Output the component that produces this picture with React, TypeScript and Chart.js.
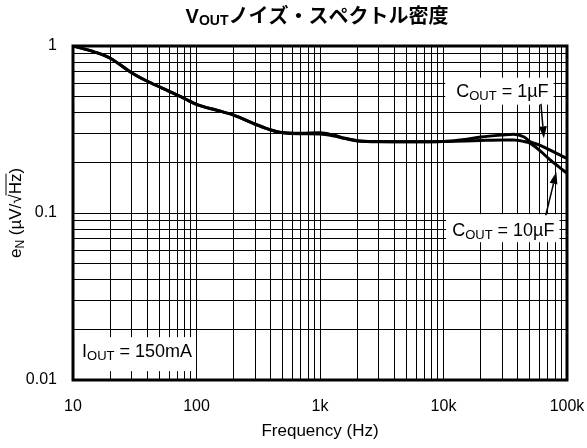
import React, { useEffect, useRef } from "react";
import { Chart, registerables } from "chart.js";

Chart.register(...registerables);

// ---- Data ----
const FREQ_HZ = [10, 15, 20, 30, 40, 60, 80, 100, 150, 200, 300, 400, 500, 700, 1000, 1300, 1600, 2000, 3000, 5000, 7000, 10000, 15000, 20000, 30000, 37000, 45000, 50000, 60000, 73000, 85000, 100000];
const NOISE_COUT_1UF = [1.0, 0.92, 0.845, 0.69, 0.615, 0.535, 0.485, 0.447, 0.41, 0.386, 0.34, 0.314, 0.302, 0.3, 0.302, 0.292, 0.28, 0.271, 0.268, 0.267, 0.267, 0.268, 0.276, 0.285, 0.293, 0.296, 0.285, 0.268, 0.255, 0.238, 0.225, 0.212];
const NOISE_COUT_10UF = [1.0, 0.92, 0.845, 0.69, 0.615, 0.535, 0.485, 0.447, 0.41, 0.386, 0.34, 0.314, 0.302, 0.298, 0.297, 0.289, 0.279, 0.27, 0.267, 0.267, 0.267, 0.268, 0.27, 0.272, 0.274, 0.274, 0.268, 0.262, 0.237, 0.208, 0.19, 0.173];

const X_TICK_VALUES = [10, 100, 1000, 10000, 100000];
const X_TICK_LABELS = ["10", "100", "1k", "10k", "100k"];
const Y_TICK_VALUES = [0.01, 0.1, 1];
const Y_TICK_LABELS = ["0.01", "0.1", "1"];

const FONT = "'Liberation Sans', Arial, Helvetica, sans-serif";
const CJK = "'Noto Sans CJK JP', 'Noto Sans CJK SC', sans-serif";

type Part = { t: string; sub?: boolean; family?: string; over?: boolean };

const TITLE_PARTS: Part[] = [
  { t: "V" },
  { t: "OUT", sub: true },
  { t: "ノイズ・スペクトル密度", family: CJK },
];
const Y_TITLE_PARTS: Part[] = [
  { t: "e" },
  { t: "N", sub: true },
  { t: " (µV/√" },
  { t: "Hz", over: true },
  { t: ")" },
];
const X_TITLE = "Frequency (Hz)";

// annotation labels (anchored in data space)
const LABELS = [
  { parts: [{ t: "C" }, { t: "OUT", sub: true }, { t: " = 1µF" }] as Part[], x: 30000, y: 0.54, padL: 11, padR: 5, top: 13, bottom: 14 },
  { parts: [{ t: "C" }, { t: "OUT", sub: true }, { t: " = 10µF" }] as Part[], x: 30500, y: 0.08, padL: 6, padR: 5, top: 15, bottom: 13 },
  { parts: [{ t: "I" }, { t: "OUT", sub: true }, { t: " = 150mA" }] as Part[], x: 33, y: 0.0151, padL: 8, padR: 4, top: 13, bottom: 21 },
];
const ARROWS = [
  { from: { x: 61500, y: 0.45 }, to: { x: 65000, y: 0.28 } },
  { from: { x: 67300, y: 0.097 }, to: { x: 82000, y: 0.176 } },
];

function logGrid(minExp: number, maxExp: number): number[] {
  const out: number[] = [];
  for (let e = minExp; e < maxExp; e++) {
    for (let m = 1; m <= 9; m++) out.push(m * Math.pow(10, e));
  }
  out.push(Math.pow(10, maxExp));
  return out;
}

function labelFor(v: number, vals: number[], labels: string[]): string {
  for (let i = 0; i < vals.length; i++) {
    if (Math.abs(v - vals[i]) / vals[i] < 1e-6) return labels[i];
  }
  return "";
}

function fontOf(p: Part, size: number, bold: boolean) {
  const s = p.sub ? Math.round(size * 0.7) : size;
  return `${bold ? "bold " : ""}${s}px ${p.family || FONT}`;
}

function measureParts(ctx: CanvasRenderingContext2D, parts: Part[], size: number, bold = false) {
  let w = 0;
  for (const p of parts) {
    ctx.font = fontOf(p, size, bold);
    w += ctx.measureText(p.t).width;
  }
  return w;
}

function drawParts(ctx: CanvasRenderingContext2D, parts: Part[], x: number, baseline: number, size: number, bold = false, subDrop = 0.18) {
  let cx = x;
  ctx.textAlign = "left";
  ctx.textBaseline = "alphabetic";
  for (const p of parts) {
    ctx.font = fontOf(p, size, bold);
    const dy = p.sub ? size * subDrop : 0;
    ctx.fillText(p.t, cx, baseline + dy);
    const w = ctx.measureText(p.t).width;
    if (p.over) {
      ctx.save();
      ctx.lineWidth = 1;
      ctx.beginPath();
      const oy = baseline - size * 0.86;
      ctx.moveTo(cx - 1, oy);
      ctx.lineTo(cx + w, oy);
      ctx.stroke();
      ctx.restore();
    }
    cx += w;
  }
}

const decorPlugin = {
  id: "decor",
  afterDatasetsDraw(chart: any) {
    const { ctx, chartArea: a } = chart;
    const xs = chart.scales.x;
    const ys = chart.scales.y;
    ctx.save();
    ctx.fillStyle = "#000";
    ctx.strokeStyle = "#000";
    const size = 18;
    for (const L of LABELS) {
      const cx = xs.getPixelForValue(L.x);
      const cy = ys.getPixelForValue(L.y);
      const w = measureParts(ctx, L.parts, size);
      const left = cx - w / 2;
      ctx.fillStyle = "#fff";
      ctx.fillRect(left - L.padL, cy - L.top, w + L.padL + L.padR, L.top + L.bottom);
      ctx.fillStyle = "#000";
      drawParts(ctx, L.parts, left, cy + size * 0.36, size);
    }
    for (const A of ARROWS) {
      const x1 = xs.getPixelForValue(A.from.x);
      const y1 = ys.getPixelForValue(A.from.y);
      const x2 = xs.getPixelForValue(A.to.x);
      const y2 = ys.getPixelForValue(A.to.y);
      const ang = Math.atan2(y2 - y1, x2 - x1);
      const hl = 12;
      const hw = 4;
      const bx = x2 - hl * Math.cos(ang);
      const by = y2 - hl * Math.sin(ang);
      ctx.lineWidth = 1.5;
      ctx.beginPath();
      ctx.moveTo(x1, y1);
      ctx.lineTo(bx, by);
      ctx.stroke();
      ctx.beginPath();
      ctx.moveTo(x2, y2);
      ctx.lineTo(bx + hw * Math.sin(ang), by - hw * Math.cos(ang));
      ctx.lineTo(bx - hw * Math.sin(ang), by + hw * Math.cos(ang));
      ctx.closePath();
      ctx.fill();
    }
    ctx.lineWidth = 3;
    ctx.strokeRect(a.left, a.top, a.right - a.left, a.bottom - a.top);
    ctx.restore();
  },
  afterDraw(chart: any) {
    const { ctx, chartArea: a } = chart;
    ctx.save();
    ctx.fillStyle = "#000";
    ctx.strokeStyle = "#000";
    const midX = (a.left + a.right) / 2;
    const ts = 20;
    const tw = measureParts(ctx, TITLE_PARTS, ts, true);
    drawParts(ctx, TITLE_PARTS, midX - tw / 2 - 3, 23, ts, true, 0.12);
    ctx.font = `17px ${FONT}`;
    ctx.textAlign = "center";
    ctx.textBaseline = "middle";
    ctx.fillText(X_TITLE, midX, 431);
    const ys = 17;
    const yw = measureParts(ctx, Y_TITLE_PARTS, ys);
    ctx.translate(14.5, (a.top + a.bottom) / 2);
    ctx.rotate(-Math.PI / 2);
    drawParts(ctx, Y_TITLE_PARTS, -yw / 2, ys * 0.36, ys);
    ctx.restore();
  },
};

export default function App() {
  const ref = useRef<HTMLCanvasElement | null>(null);
  useEffect(() => {
    if (!ref.current) return;
    const chart = new Chart(ref.current, {
      type: "line",
      data: {
        datasets: [
          {
            label: "COUT = 1µF",
            data: FREQ_HZ.map((f, i) => ({ x: f, y: NOISE_COUT_1UF[i] })),
            borderColor: "#000",
            borderWidth: 3,
            pointRadius: 0,
            fill: false,
            cubicInterpolationMode: "monotone",
          },
          {
            label: "COUT = 10µF",
            data: FREQ_HZ.map((f, i) => ({ x: f, y: NOISE_COUT_10UF[i] })),
            borderColor: "#000",
            borderWidth: 3,
            pointRadius: 0,
            fill: false,
            cubicInterpolationMode: "monotone",
          },
        ],
      },
      options: {
        animation: false,
        responsive: false,
        devicePixelRatio: 1,
        layout: { padding: { top: 46, right: 20, left: 0, bottom: 0 } },
        plugins: {
          legend: { display: false },
          title: { display: false },
          tooltip: { enabled: false },
        },
        scales: {
          x: {
            type: "logarithmic",
            min: 10,
            max: 100000,
            afterBuildTicks: (s: any) => {
              s.ticks = logGrid(1, 5).map((v) => ({ value: v }));
            },
            afterFit: (s: any) => {
              s.height = 68;
              s.paddingLeft = 0;
              s.paddingRight = 0;
            },
            grid: { color: "#000", lineWidth: 1, drawTicks: false },
            border: { display: false },
            ticks: {
              autoSkip: false,
              maxRotation: 0,
              padding: 17,
              color: "#000",
              font: { family: FONT, size: 16 },
              callback: (v: any) => labelFor(Number(v), X_TICK_VALUES, X_TICK_LABELS),
            },
          },
          y: {
            type: "logarithmic",
            min: 0.01,
            max: 1,
            afterBuildTicks: (s: any) => {
              s.ticks = logGrid(-2, 0).map((v) => ({ value: v }));
            },
            afterFit: (s: any) => {
              s.width = 73;
              s.paddingTop = 0;
              s.paddingBottom = 0;
            },
            grid: { color: "#000", lineWidth: 1, drawTicks: false },
            border: { display: false },
            ticks: {
              autoSkip: false,
              padding: 16,
              color: "#000",
              font: { family: FONT, size: 16 },
              callback: (v: any) => labelFor(Number(v), Y_TICK_VALUES, Y_TICK_LABELS),
            },
          },
        },
      },
      plugins: [decorPlugin],
    } as any);
    return () => chart.destroy();
  }, []);

  return (
    <div style={{ position: "absolute", left: 0, top: 0, width: 587, height: 448, background: "#fff" }}>
      <canvas ref={ref} width={587} height={448} style={{ width: 587, height: 448, display: "block" }} />
    </div>
  );
}
